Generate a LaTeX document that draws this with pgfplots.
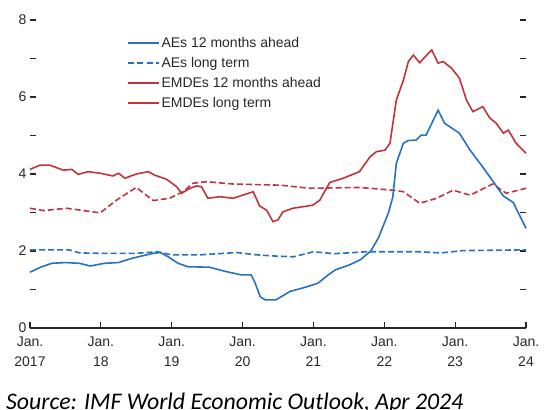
\documentclass[border=0pt]{standalone}
\usepackage{pgfplots}
\pgfplotsset{compat=1.18}
\usepackage{fontspec}
\setmainfont{Liberation Sans}
\newfontfamily\calibri{Carlito}
\definecolor{aeblue}{RGB}{40,112,192}
\definecolor{emred}{RGB}{192,52,62}
\definecolor{txt}{RGB}{40,40,40}
\begin{document}
\begin{tikzpicture}
\useasboundingbox (-30bp,-82bp) rectangle (518bp,328bp);
\begin{axis}[
  at={(0,0)}, anchor=south west,
  scale only axis, width=496bp, height=308bp,
  xmin=2017, xmax=2024, ymin=0, ymax=8,
  axis x line*=bottom,
  y axis line style={draw=none},
  x axis line style={line width=1.1bp, black!85},
  xtick={2017,2018,2019,2020,2021,2022,2023,2024},
  xticklabels={Jan.\\2017,Jan.\\18,Jan.\\19,Jan.\\20,Jan.\\21,Jan.\\22,Jan.\\23,Jan.\\24},
  xticklabel style={align=center, font=\fontsize{14bp}{20.5bp}\selectfont, text=txt, yshift=-5bp},
  ytick={0,1,2,3,4,5,6,7,8},
  yticklabels={0,,2,,4,,6,,8},
  yticklabel pos=left,
  ytick pos=both,
  yticklabel style={font=\fontsize{14bp}{16bp}\selectfont, text=txt},
  tick align=inside,
  major tick length=6bp,
  tick style={line width=1.1bp, black!85},
  legend cell align=left,
  legend style={draw=none, fill=none, at={(rel axis cs:0.195,0.952)}, anchor=north west,
    font=\fontsize{14bp}{16bp}\selectfont, text=txt, row sep=4.4bp, inner sep=0pt},
  legend image code/.code={\draw[line width=1.6bp,#1] (0bp,0bp) -- (31bp,0bp);},
  every axis plot/.append style={line width=1.6bp},
  clip=false,
]
\addlegendimage{aeblue}
\addlegendentry{AEs 12 months ahead}
\addlegendimage{aeblue, dash pattern=on 6bp off 3.5bp}
\addlegendentry{AEs long term}
\addlegendimage{emred}
\addlegendentry{EMDEs 12 months ahead}
\addlegendimage{emred}
\addlegendentry{EMDEs long term}

% AEs long term
\addplot[aeblue, dash pattern=on 6bp off 3bp, forget plot] coordinates {
(2017.00,2.03) (2017.55,2.03) (2017.70,1.95) (2018.00,1.94) (2018.50,1.94)
(2018.80,1.98) (2019.00,1.90) (2019.40,1.90) (2019.92,1.96) (2020.20,1.90)
(2020.45,1.87) (2020.72,1.85) (2021.00,1.98) (2021.30,1.93) (2021.75,1.98)
(2022.50,1.98) (2022.80,1.95) (2023.10,2.01) (2024.00,2.03)};

% EMDEs long term
\addplot[emred, dash pattern=on 6bp off 3bp, forget plot] coordinates {
(2017.00,3.11) (2017.19,3.05) (2017.52,3.11) (2017.99,2.99) (2018.22,3.32)
(2018.50,3.65) (2018.74,3.31) (2018.97,3.37) (2019.16,3.54) (2019.30,3.76)
(2019.49,3.80) (2019.87,3.74) (2020.53,3.71) (2020.95,3.63) (2021.65,3.65)
(2022.12,3.58) (2022.27,3.54) (2022.50,3.24) (2022.74,3.37) (2022.97,3.58)
(2023.21,3.45) (2023.53,3.74) (2023.72,3.50) (2024.00,3.63)};

% EMDEs 12 months ahead
\addplot[emred, forget plot] coordinates {
(2017.00,4.12) (2017.14,4.23) (2017.28,4.23) (2017.47,4.10) (2017.59,4.12)
(2017.68,3.99) (2017.82,4.06) (2017.99,4.02) (2018.17,3.95) (2018.25,4.02)
(2018.34,3.89) (2018.50,4.00) (2018.67,4.06) (2018.76,3.97) (2018.93,3.86)
(2019.07,3.67) (2019.14,3.50) (2019.26,3.63) (2019.35,3.69) (2019.42,3.67)
(2019.51,3.37) (2019.68,3.41) (2019.87,3.37) (2020.15,3.54) (2020.24,3.17)
(2020.34,3.06) (2020.43,2.76) (2020.50,2.81) (2020.57,3.02) (2020.71,3.11)
(2020.85,3.15) (2020.99,3.19) (2021.09,3.32) (2021.23,3.78) (2021.42,3.89)
(2021.65,4.06) (2021.80,4.45) (2021.89,4.58) (2022.01,4.62) (2022.08,4.80)
(2022.17,5.92) (2022.27,6.44) (2022.34,6.92) (2022.41,7.09) (2022.50,6.89)
(2022.60,7.09) (2022.67,7.22) (2022.76,6.88) (2022.83,6.92) (2022.95,6.75)
(2023.06,6.49) (2023.16,5.92) (2023.25,5.62) (2023.39,5.75) (2023.49,5.45)
(2023.58,5.32) (2023.68,5.06) (2023.75,5.14) (2023.86,4.80) (2024.00,4.54)};

% AEs 12 months ahead
\addplot[aeblue, forget plot] coordinates {
(2017.00,1.45) (2017.15,1.58) (2017.31,1.68) (2017.50,1.70) (2017.70,1.68)
(2017.85,1.61) (2018.05,1.68) (2018.25,1.70) (2018.44,1.81) (2018.60,1.88)
(2018.74,1.94) (2018.84,1.96) (2018.95,1.85) (2019.09,1.68) (2019.23,1.59)
(2019.53,1.58) (2019.78,1.46) (2019.98,1.38) (2020.12,1.38) (2020.17,1.20)
(2020.25,0.81) (2020.32,0.73) (2020.47,0.73) (2020.67,0.95) (2020.87,1.05)
(2021.06,1.16) (2021.21,1.38) (2021.31,1.51) (2021.51,1.64) (2021.66,1.77)
(2021.81,2.00) (2021.92,2.35) (2022.06,3.00) (2022.12,3.40) (2022.17,4.28)
(2022.27,4.80) (2022.34,4.87) (2022.45,4.88) (2022.52,5.01) (2022.59,5.01)
(2022.76,5.66) (2022.85,5.32) (2023.06,5.06) (2023.21,4.62) (2023.35,4.28)
(2023.50,3.90) (2023.68,3.43) (2023.82,3.26) (2024.00,2.59)};
\end{axis}
\node[anchor=base west, inner sep=0pt, font=\calibri\itshape\fontsize{23.8bp}{26bp}\selectfont] at (-24bp,-81bp) {Source: IMF World Economic Outlook, Apr 2024};
\end{tikzpicture}
\end{document}
